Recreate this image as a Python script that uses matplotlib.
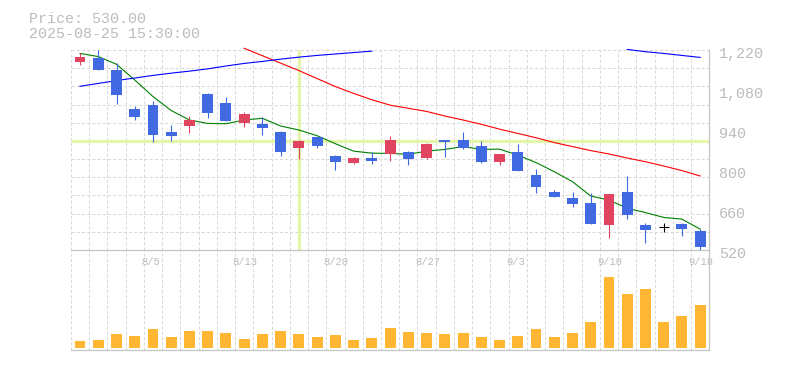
import numpy as np
import matplotlib
matplotlib.use('Agg')
import matplotlib.pyplot as plt
from matplotlib import transforms as mtrans

# ---------------- data ----------------
dates = ['7/30', '7/31', '8/1', '8/4', '8/5', '8/6', '8/7', '8/8', '8/12', '8/13',
         '8/14', '8/15', '8/18', '8/19', '8/20', '8/21', '8/22', '8/25', '8/26', '8/27',
         '8/28', '8/29', '9/1', '9/2', '9/3', '9/4', '9/5', '9/8', '9/9', '9/10',
         '9/11', '9/12', '9/16', '9/17', '9/18']
opens = [1179, 1192, 1150, 1013, 1027, 933, 955, 1066, 1034, 964,
         961, 933, 878, 915, 849, 824, 842, 857, 863, 842,
         905, 905, 884, 828, 863, 782, 723, 702, 684, 607,
         723, 607, 600, 611, 586]
closes = [1194, 1150, 1063, 986, 922, 919, 975, 1000, 971, 996,
          947, 863, 901, 884, 829, 842, 832, 905, 838, 891,
          899, 877, 828, 856, 796, 740, 705, 681, 611, 716,
          642, 590, 600, 593, 530]
highs = [1208, 1221, 1173, 1025, 1041, 957, 988, 1071, 1055, 1004,
         984, 936, 905, 916, 852, 845, 863, 918, 866, 894,
         906, 933, 901, 857, 891, 803, 730, 723, 719, 716,
         779, 614, 615, 614, 593]
lows = [1168, 1150, 1031, 975, 898, 902, 930, 983, 971, 950,
        922, 849, 840, 878, 801, 821, 821, 832, 817, 838,
        845, 873, 824, 817, 796, 719, 705, 670, 611, 562,
        628, 544, 583, 569, 518]
volumes = [67, 77, 137, 117, 187, 107, 167, 167, 147, 87,
           137, 167, 137, 107, 127, 77, 97, 197, 157, 147,
           137, 147, 107, 77, 117, 187, 107, 147, 257, 707,
           537, 587, 257, 317, 427]
ma_short = [1208, 1197, 1170, 1115, 1057, 1008, 975, 963, 962, 975,
            981, 954, 940, 920, 892, 866, 859, 858, 855, 866,
            872, 882, 872, 873, 852, 826, 794, 759, 709, 695,
            666, 651, 634, 628, 593]
ma_mid = [None] * 9 + [1226, 1200, 1174, 1148, 1120, 1092, 1068, 1046, 1027, 1016,
                       1005, 989, 975, 960, 943, 928, 913, 896, 882, 868,
                       856, 842, 829, 814, 798, 779]
ma_long = [1093, 1103, 1113, 1122, 1131, 1139, 1146, 1154, 1164, 1173,
           1180, 1188, 1195, 1201, 1206, 1211, 1216] + [None] * 13 + \
          [1222, 1214, 1208, 1201, 1194]
price_labels = [520, 660, 800, 940, 1080, 1220]
date_labels = ['8/5', '8/13', '8/20', '8/27', '9/3', '9/10', '9/18']
cross_idx = 12
cross_price = 901
header_price = 'Price: 530.00'
header_time = '2025-08-25 15:30:00'

# ---------------- style ----------------
FONT = ['Liberation Mono', 'DejaVu Sans Mono']
UP = '#e04461'
DOWN = '#4169e1'
VOL = '#ffb733'
GRID = '#d9d9d9'
SPINE = '#c4c4c4'
TXT = '#bcbcbc'
CROSS = '#e2f5a8'
DASH = (0, (3, 2))

W, H = 785, 370
fig = plt.figure(figsize=(W / 100, H / 100), dpi=100)


def px_axes(l, t, r, b):
    return fig.add_axes([l / W, 1 - b / H, (r - l) / W, (b - t) / H])


L, R = 70.9, 709.3
ax = px_axes(L, 47, R, 250)
axv = px_axes(L, 250, R, 350.3)

n = len(dates)
x = np.arange(n)
o = np.array(opens, float)
c = np.array(closes, float)
h = np.array(highs, float)
lo = np.array(lows, float)
pmin, pmax = price_labels[0], price_labels[-1]

ax.set_xlim(-0.5, n - 0.5)
ax.set_ylim(pmin, pmax + 3 * 3.5)
axv.set_xlim(-0.5, n - 0.5)
axv.set_ylim(-26, 977)

slot_edges = np.arange(-0.5, n, 1.0)
grid_levels = np.linspace(pmin, pmax, 12)
for a in (ax, axv):
    a.set_xticks([])
    a.set_yticks([])
    a.tick_params(which='both', length=0, labelleft=False, labelbottom=False)
    a.patch.set_alpha(0)
    for s in ('top', 'left'):
        a.spines[s].set_visible(False)
    for s in ('right', 'bottom'):
        a.spines[s].set_color(SPINE)
        a.spines[s].set_linewidth(0.9)
ax.spines['right'].set_bounds(pmin, pmax)

# grid
ax.vlines(slot_edges, pmin, pmax, color=GRID, lw=0.75, ls=DASH, zorder=1)
ax.hlines(grid_levels, -0.5, n - 0.5, color=GRID, lw=0.75, ls=DASH, zorder=1)
axv.set_xticks(slot_edges, minor=True)
axv.tick_params(which='minor', length=0)
axv.grid(which='minor', axis='x', color=GRID, lw=0.75, ls=DASH)
axv.set_axisbelow(True)

# crosshair
ax.vlines(cross_idx, pmin, pmax, color=CROSS, lw=2.3, zorder=1.5)
ax.hlines(cross_price, -0.5, n - 0.5, color=CROSS, lw=2.3, zorder=1.5)

# moving averages
def arr(v):
    return np.array([np.nan if e is None else e for e in v], float)

ax.plot(x, arr(ma_short), color='#008000', lw=0.8, zorder=3)
ax.plot(x, arr(ma_mid), color='#ff0000', lw=0.8, zorder=3)
ax.plot(x, arr(ma_long), color='#0000ff', lw=0.8, zorder=3)

# candles
up = c > o
down = c < o
flat = ~(up | down)
cols = np.where(up, UP, np.where(down, DOWN, 'black'))
ax.vlines(x, lo, h, colors=cols, lw=0.8, zorder=4)
body = ~flat
ax.bar(x[body], np.abs(c - o)[body], bottom=np.minimum(o, c)[body], width=0.6,
       color=cols[body], linewidth=0, zorder=5)
ax.hlines(c[flat], x[flat] - 0.28, x[flat] + 0.28, colors='black', lw=0.8, zorder=5)

# volume
axv.bar(x, volumes, width=0.6, color=VOL, linewidth=0, zorder=3)

# price labels
ytr = mtrans.blended_transform_factory(ax.transAxes, ax.transData) + \
    mtrans.ScaledTranslation(9.5 / 100, -8.3 / 100, fig.dpi_scale_trans)
for p in price_labels:
    ax.text(1, p, f'{p:,}', transform=ytr, ha='left', va='baseline',
            fontsize=10.8, color=TXT, family=FONT, clip_on=False)

# date labels
xtr = mtrans.blended_transform_factory(axv.transData, axv.transAxes) + \
    mtrans.ScaledTranslation(-2.5 / 100, -15.2 / 100, fig.dpi_scale_trans)
for d in date_labels:
    axv.text(dates.index(d) - 0.5, 1, d, transform=xtr, ha='left', va='baseline',
             fontsize=7.6, color=TXT, family=FONT, clip_on=False, zorder=1)

# header
fig.text(29 / W, 1 - 22.7 / H, header_price, ha='left', va='baseline',
         fontsize=10.8, color=TXT, family=FONT)
fig.text(29 / W, 1 - 37.7 / H, header_time, ha='left', va='baseline',
         fontsize=10.8, color=TXT, family=FONT)

fig.savefig('out.png', dpi=100)
